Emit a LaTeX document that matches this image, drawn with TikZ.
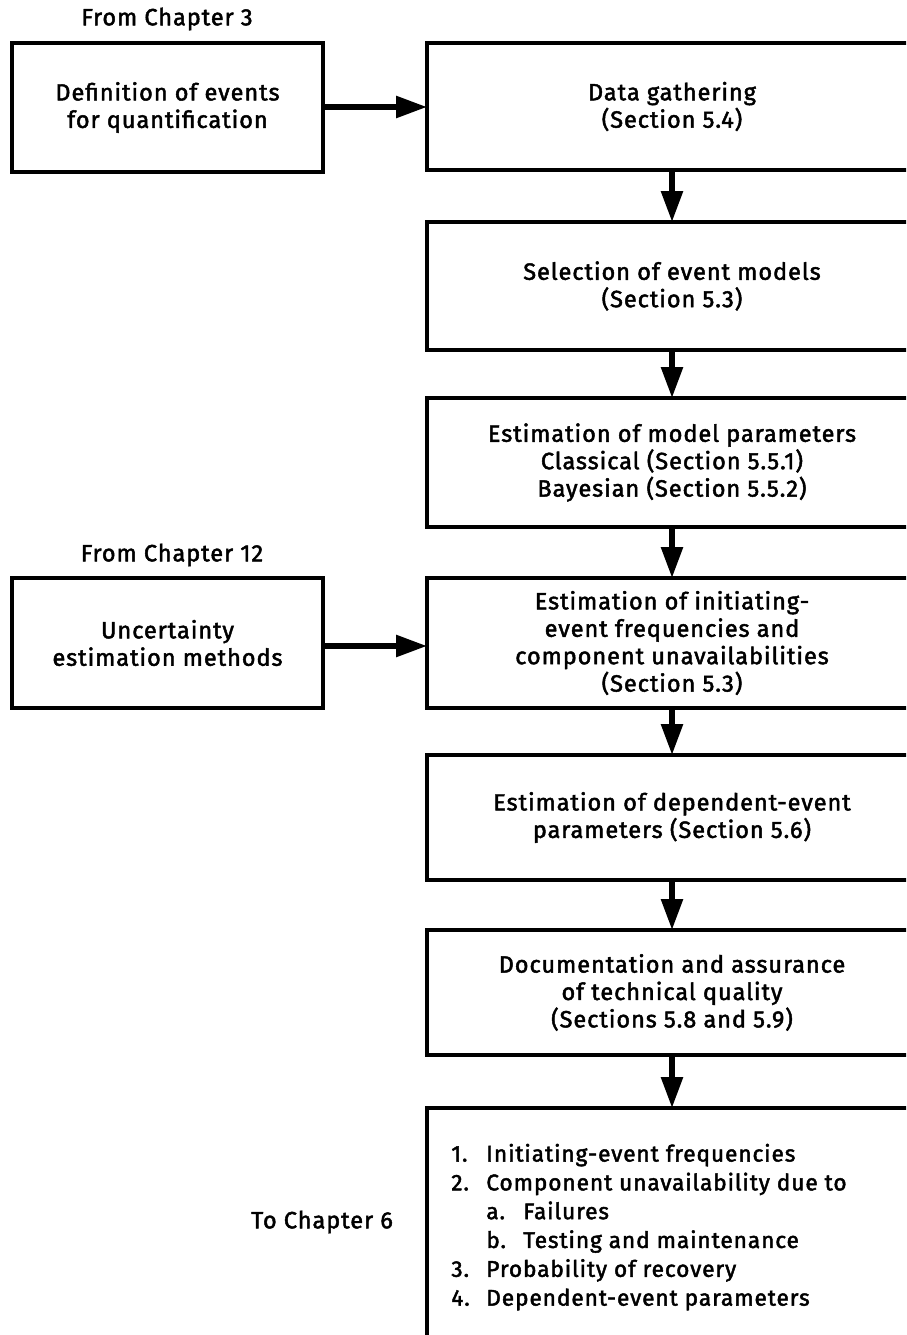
\documentclass[tikz,border=0pt]{standalone}
\usepackage{fontspec}
\setmainfont{Fira Sans}[FakeBold=2, LetterSpace=4]
\usetikzlibrary{arrows.meta}
\begin{document}
\begin{tikzpicture}[x=0.02cm,y=-0.02cm,
  every node/.style={font=\fontsize{13.4}{15.6}\selectfont},
  box/.style={draw, line width=2pt, rectangle, inner sep=0pt, align=center},
  leftbox/.style={box, minimum width=6.22cm},
  mainbox/.style={box, minimum width=9.8cm},
  flow/.style={line width=3.2pt, -{Triangle[length=0.62cm,width=0.42cm]}, shorten >=-1pt},
  heading/.style={inner sep=0pt}]
\useasboundingbox (0,0) rectangle (906,1335);
\clip (0,0) rectangle (906,1335);

% inputs from other chapters
\node[heading] (from3) at (167,19) {From Chapter 3};
\node[leftbox, minimum height=2.58cm] (defs) at (167.5,107.5)
  {Definition of events\\for quantification};
\node[heading] (from12) at (172,555) {From Chapter 12};
\node[leftbox, minimum height=2.6cm] (unc) at (167.5,643)
  {Uncertainty\\estimation methods};

% main sequence of quantification steps
\node[mainbox, minimum height=2.54cm] (data) at (672,106.5)
  {Data gathering\\(Section 5.4)};
\node[mainbox, minimum height=2.56cm] (models) at (672,286)
  {Selection of event models\\(Section 5.3)};
\node[mainbox, minimum height=2.58cm] (params) at (672,462.5)
  {Estimation of model parameters\\Classical (Section 5.5.1)\\Bayesian (Section 5.5.2)};
\node[mainbox, minimum height=2.6cm] (freq) at (672,643)
  {Estimation of initiating-\\event frequencies and\\component unavailabilities\\(Section 5.3)};
\node[mainbox, minimum height=2.5cm] (dep) at (672,817.5)
  {Estimation of dependent-event\\parameters (Section 5.6)};
\node[mainbox, minimum height=2.5cm] (doc) at (672,992.5)
  {Documentation and assurance\\of technical quality\\(Sections 5.8 and 5.9)};
\node[mainbox, minimum height=5.84cm] (out) at (672,1254) {};

% results handed on
\node[anchor=north west, inner sep=0pt, align=left,
  font=\fontsize{12.9}{16.4}\selectfont] (results) at (451,1141)
  {\begin{tabular}{@{}p{0.7cm}@{}p{0.74cm}@{}l@{}}
   1. & \multicolumn{2}{@{}l@{}}{Initiating-event frequencies}\\
   2. & \multicolumn{2}{@{}l@{}}{Component unavailability due to}\\
      & a. & Failures\\
      & b. & Testing and maintenance\\
   3. & \multicolumn{2}{@{}l@{}}{Probability of recovery}\\
   4. & \multicolumn{2}{@{}l@{}}{Dependent-event parameters}
   \end{tabular}};
\node[heading] (to6) at (322,1222) {To Chapter 6};

% connectors
\draw[flow] (defs.east |- 0,107) -- (data.west |- 0,107);
\draw[flow] (unc.east |- 0,646) -- (freq.west |- 0,646);
\draw[flow] (data) -- (models);
\draw[flow] (models) -- (params);
\draw[flow] (params) -- (freq);
\draw[flow] (freq) -- (dep);
\draw[flow] (dep) -- (doc);
\draw[flow] (doc) -- (out);
\end{tikzpicture}
\end{document}
